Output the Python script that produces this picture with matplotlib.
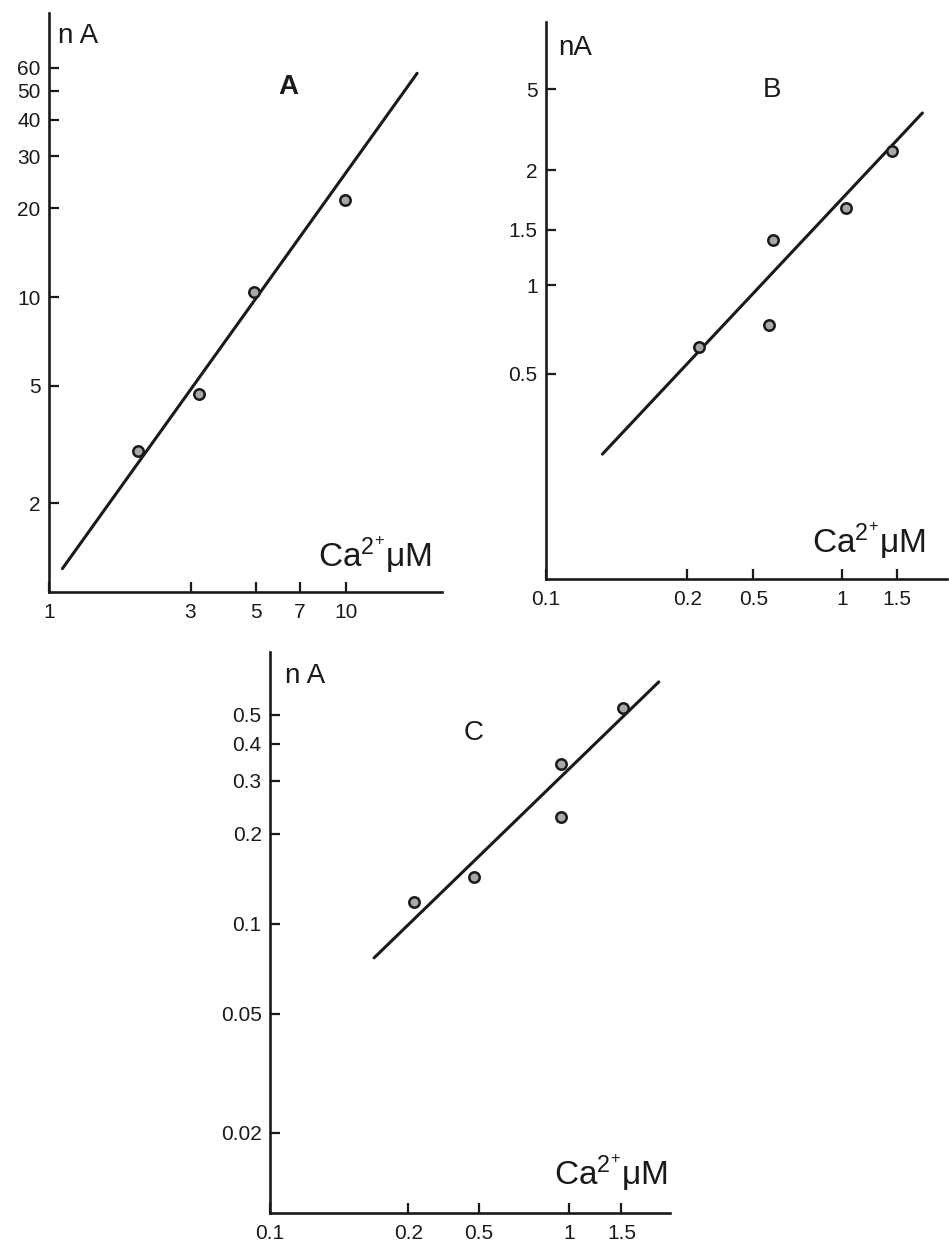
import numpy as np
import matplotlib
matplotlib.use("Agg")
import matplotlib.pyplot as plt
from matplotlib.ticker import FixedLocator, FixedFormatter, NullLocator

plt.rcParams['font.family'] = ['Liberation Sans', 'DejaVu Sans']
plt.rcParams['mathtext.fontset'] = 'custom'
plt.rcParams['mathtext.rm'] = 'Liberation Sans'
plt.rcParams['mathtext.it'] = 'Liberation Sans'

ink = '#1a1a1a'

# Panel A
a_ca = [2.0, 3.21, 4.89, 9.93]
a_na = [3.0, 4.69, 10.4, 21.3]
a_fit_x = [1.11, 17.4]
a_fit_y = [1.2, 57.4]
a_xticks = [1, 3, 5, 7, 10]
a_xlabels = ['1', '3', '5', '7', '10']
a_yticks = [2, 5, 10, 20, 30, 40, 50, 60]
a_ylabels = ['2', '5', '10', '20', '30', '40', '50', '60']

# Panel B
b_ca = [0.329, 0.582, 0.565, 1.03, 1.47]
b_na = [0.615, 1.42, 0.731, 1.83, 2.86]
b_fit_x = [0.155, 1.86]
b_fit_y = [0.266, 3.85]
# the printed "0.2", "2" and "5" labels sit off their log positions in the original
b_xticks = [0.1, 0.30, 0.5, 1, 1.53]
b_xlabels = ['0.1', '0.2', '0.5', '1', '1.5']
b_yticks = [0.5, 1, 1.54, 2.46, 4.64]
b_ylabels = ['0.5', '1', '1.5', '2', '5']

# Panel C
c_ca = [0.303, 0.481, 0.94, 0.94, 1.52]
c_na = [0.118, 0.1435, 0.343, 0.228, 0.528]
c_fit_x = [0.223, 2.0]
c_fit_y = [0.0769, 0.643]
c_xticks = [0.1, 0.29, 0.5, 1, 1.5]
c_xlabels = ['0.1', '0.2', '0.5', '1', '1.5']
c_yticks = [0.02, 0.05, 0.1, 0.2, 0.3, 0.4, 0.5]
c_ylabels = ['0.02', '0.05', '0.1', '0.2', '0.3', '0.4', '0.5']

fig = plt.figure(figsize=(9.49, 12.52), dpi=100)
fig.patch.set_facecolor('white')


def panel(rect, xs, ys, fx, fy, xlim, ylim, xt, xl, yt, yl, letter, bold, na_txt, txt_pos):
    ax = fig.add_axes(rect)
    ax.set_xscale('log')
    ax.set_yscale('log')
    ax.set_xlim(*xlim)
    ax.set_ylim(*ylim)
    ax.plot(fx, fy, color=ink, lw=2.2, solid_capstyle='round')
    ax.plot(xs, ys, 'o', ms=7.5, mfc='#a8a8a8', mec=ink, mew=1.8)
    for s in ['top', 'right']:
        ax.spines[s].set_visible(False)
    for s in ['left', 'bottom']:
        ax.spines[s].set_linewidth(1.9)
        ax.spines[s].set_color(ink)
    ax.xaxis.set_major_locator(FixedLocator(xt))
    ax.xaxis.set_major_formatter(FixedFormatter(xl))
    ax.yaxis.set_major_locator(FixedLocator(yt))
    ax.yaxis.set_major_formatter(FixedFormatter(yl))
    ax.xaxis.set_minor_locator(NullLocator())
    ax.yaxis.set_minor_locator(NullLocator())
    ax.tick_params(axis='both', direction='in', length=7, width=1.6,
                   color=ink, labelcolor=ink, labelsize=15)
    ax.tick_params(axis='x', pad=8)
    ax.tick_params(axis='y', pad=6)
    ax.set_facecolor('none')
    (nx, ny), (lx, ly), (cx, cy) = txt_pos
    ax.text(nx, ny, na_txt, transform=ax.transAxes, fontsize=20,
            ha='left', va='baseline', color=ink)
    ax.text(lx, ly, letter, transform=ax.transAxes, fontsize=20,
            fontweight='bold' if bold else 'normal',
            ha='center', va='center', color=ink)
    ax.text(cx, cy, r'Ca$^{2^{+}}$μM', transform=ax.transAxes, fontsize=24,
            ha='right', va='baseline', color=ink)
    return ax


panel([0.0516, 0.5272, 0.4141, 0.4625], a_ca, a_na, a_fit_x, a_fit_y,
      (1, 21.1), (1, 92), a_xticks, a_xlabels, a_yticks, a_ylabels,
      'A', True, 'n A', ((0.023, 0.948), (0.608, 0.872), (0.975, 0.043)))

panel([0.5753, 0.5375, 0.4225, 0.4449], b_ca, b_na, b_fit_x, b_fit_y,
      (0.1, 2.25), (0.1, 7.85), b_xticks, b_xlabels, b_yticks, b_ylabels,
      'B', False, 'nA', ((0.030, 0.941), (0.563, 0.878), (0.948, 0.047)))

panel([0.2845, 0.0312, 0.4215, 0.4481], c_ca, c_na, c_fit_x, c_fit_y,
      (0.1, 2.18), (0.0108, 0.81), c_xticks, c_xlabels, c_yticks, c_ylabels,
      'C', False, 'n A', ((0.0375, 0.945), (0.508, 0.856), (0.993, 0.050)))

fig.savefig('out.png', dpi=100, facecolor='white')
